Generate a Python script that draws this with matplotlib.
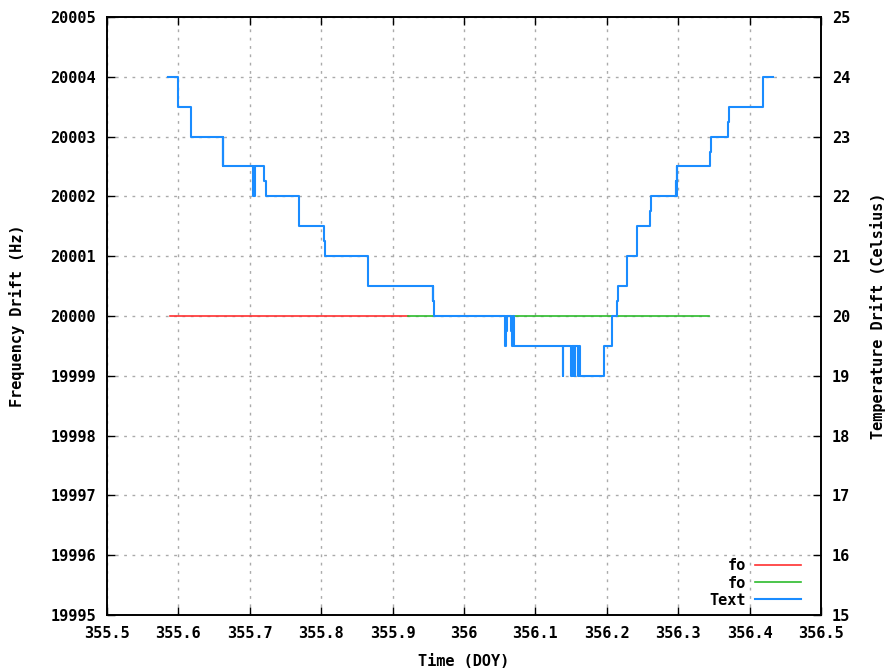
import matplotlib
matplotlib.use("Agg")
import matplotlib.pyplot as plt
from matplotlib.ticker import FormatStrFormatter, MultipleLocator

# reference lines (Hz)
fo_red_time = [355.588, 355.921]
fo_red_freq = [20000, 20000]
fo_green_time = [355.921, 356.343]
fo_green_freq = [20000, 20000]

# temperature trace (Celsius), step points
temp_time = [355.586, 355.600, 355.617, 355.662, 355.6625, 355.663,
             355.705, 355.7055, 355.706, 355.707, 355.7205, 355.7225,
             355.769, 355.804, 355.806, 355.865, 355.956, 355.9565,
             355.957, 355.9575, 356.058, 356.059, 356.0595, 356.0605,
             356.0665, 356.067, 356.069, 356.0695, 356.138, 356.1383,
             356.139, 356.1505, 356.151, 356.1525, 356.153, 356.1555,
             356.156, 356.160, 356.1605, 356.1625, 356.196, 356.207,
             356.2145, 356.2155, 356.228, 356.242, 356.261, 356.2625,
             356.297, 356.2975, 356.298, 356.2985, 356.299, 356.345,
             356.3455, 356.370, 356.3705, 356.419, 356.433]
temp_vals = [24.0, 23.5, 23.0, 22.5, 23.0, 22.5,
             22.0, 22.5, 22.0, 22.5, 22.25, 22.0,
             21.5, 21.25, 21.0, 20.5, 20.25, 20.5,
             20.25, 20.0, 19.5, 20.0, 19.75, 20.0,
             19.75, 19.5, 20.0, 19.5, 19.25, 19.0,
             19.5, 19.0, 19.5, 19.0, 19.5, 19.0,
             19.5, 19.0, 19.5, 19.0, 19.5, 20.0,
             20.25, 20.5, 21.0, 21.5, 21.75, 22.0,
             22.25, 22.0, 22.5, 22.25, 22.5, 22.75,
             23.0, 23.25, 23.5, 24.0, 24.0]

font = {'family': 'DejaVu Sans Mono', 'weight': 'bold', 'size': 11}

fig = plt.figure(figsize=(8.87, 6.71), dpi=100)
ax = fig.add_axes([0.1206, 0.0835, 0.805, 0.8912])
ax2 = ax.twinx()

l1, = ax.plot(fo_red_time, fo_red_freq, color='#ff3030', lw=1.2, label='fo')
l2, = ax.plot(fo_green_time, fo_green_freq, color='#2cbb2c', lw=1.2, label='fo')
l3, = ax2.plot(temp_time, temp_vals, color='#1a8cff', lw=1.5,
               drawstyle='steps-post', label='Text')

ax.set_xlim(355.5, 356.5)
ax.set_ylim(19995, 20005)
ax2.set_ylim(15, 25)
ax.xaxis.set_major_locator(MultipleLocator(0.1))
ax.xaxis.set_major_formatter(FormatStrFormatter('%g'))
ax.yaxis.set_major_locator(MultipleLocator(1))
ax.yaxis.set_major_formatter(FormatStrFormatter('%d'))
ax2.yaxis.set_major_locator(MultipleLocator(1))
ax2.yaxis.set_major_formatter(FormatStrFormatter('%d'))

ax.grid(True, color='#aaaaaa', linestyle=(0, (2, 4)), lw=1.0)
ax.tick_params(direction='in', length=6, width=1, top=True, pad=8)
ax2.tick_params(direction='in', length=6, width=1, pad=8)
for a in (ax, ax2):
    for lab in a.get_xticklabels() + a.get_yticklabels():
        lab.set_fontproperties(matplotlib.font_manager.FontProperties(**font))
    for s in a.spines.values():
        s.set_linewidth(1.2)

ax.set_xlabel('Time (DOY)', fontdict=font, labelpad=9)
ax.set_ylabel('Frequency Drift (Hz)', fontdict=font, labelpad=18)
ax2.set_ylabel('Temperature Drift (Celsius)', fontdict=font, labelpad=14, rotation=90)

leg = ax.legend([l1, l2, l3], ['fo', 'fo', 'Text'], loc='lower right',
                bbox_to_anchor=(0.972, 0.012), frameon=False, markerfirst=False,
                prop=font, handlelength=3.0, handletextpad=0.6,
                labelspacing=0.15, borderpad=0, borderaxespad=0)

fig.savefig('out.png', dpi=100)
